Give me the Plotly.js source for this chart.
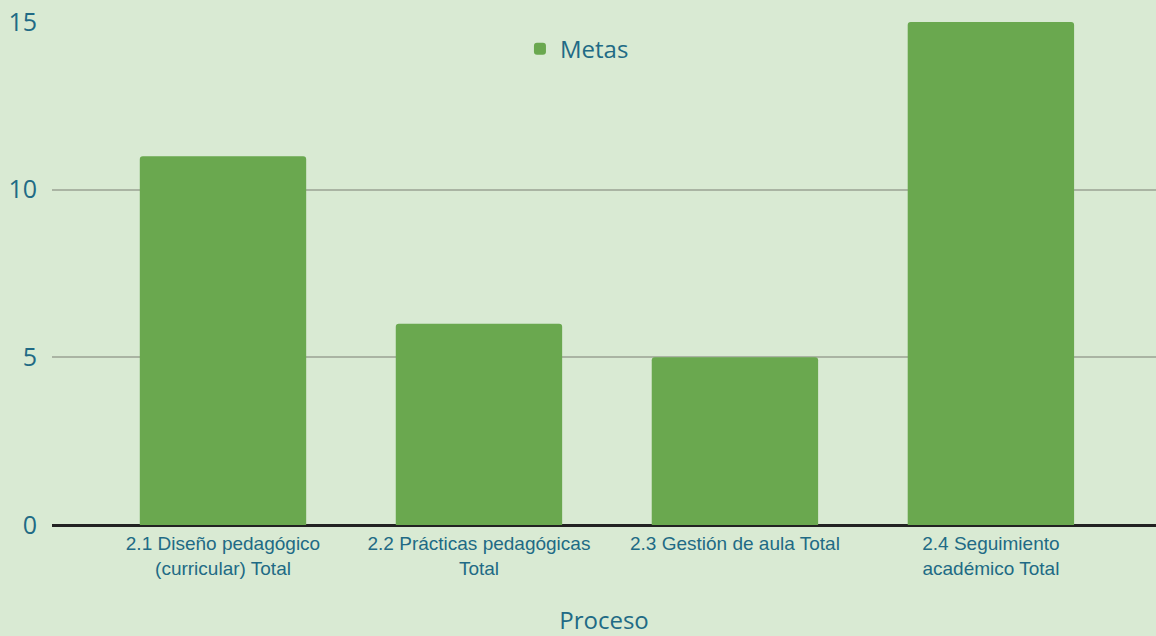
<!DOCTYPE html>
<html>
<head>
<meta charset="utf-8">
<script src="https://cdn.plot.ly/plotly-3.0.1.min.js"></script>
<style>html,body{margin:0;padding:0;background:#d9ead3;}#chart{width:1156px;height:636px;}</style>
</head>
<body>
<div id="chart"></div>
<script>
const categories = [
  "2.1 Diseño pedagógico<br>(curricular) Total",
  "2.2 Prácticas pedagógicas<br>Total",
  "2.3 Gestión de aula Total",
  "2.4 Seguimiento<br>académico Total"
];
const metas = [11, 6, 5, 15];
const seriesName = "Metas";
const xTitle = "Proceso";
const yTicks = [0, 5, 10, 15];

const textColor = "#216a85";
const trace = {
  type: "bar",
  x: categories,
  y: metas,
  name: seriesName,
  width: 0.65,
  marker: {color: "#6aa84f"},
  showlegend: true,
  hoverinfo: "x+y"
};

const layout = {
  width: 1156,
  height: 636,
  paper_bgcolor: "#d9ead3",
  plot_bgcolor: "#d9ead3",
  margin: {l: 52, r: 0, t: 22, b: 111},
  barcornerradius: 3,
  font: {family: "Open Sans, sans-serif", color: textColor},
  showlegend: true,
  legend: {
    orientation: "h",
    x: 0.4755, xref: "paper", xanchor: "center",
    y: 0.946, yref: "paper", yanchor: "middle",
    font: {size: 24, color: textColor, family: "Open Sans, sans-serif"},
    bgcolor: "rgba(0,0,0,0)"
  },
  xaxis: {
    type: "category",
    range: [-0.668, 3.645],
    showgrid: false,
    showline: true,
    linecolor: "#222222",
    linewidth: 2,
    ticks: "",
    automargin: true,
    tickfont: {family: "Liberation Sans, Arial, sans-serif", size: 19, color: textColor},
    title: {text: xTitle, font: {size: 24, color: textColor, family: "Open Sans, sans-serif"}, standoff: 41},
    fixedrange: true
  },
  yaxis: {
    range: [0, 15],
    tickvals: yTicks,
    ticktext: yTicks.map(String),
    showgrid: true,
    gridcolor: "#aab4a3",
    gridwidth: 2,
    zeroline: true,
    zerolinecolor: "#222222",
    zerolinewidth: 2,
    showline: false,
    ticks: "",
    automargin: false,
    ticklabelstandoff: 14,
    tickfont: {size: 25, color: textColor, family: "Open Sans, sans-serif"},
    fixedrange: true
  }
};

Plotly.newPlot("chart", [trace], layout, {displayModeBar: false, responsive: false});
</script>
</body>
</html>
